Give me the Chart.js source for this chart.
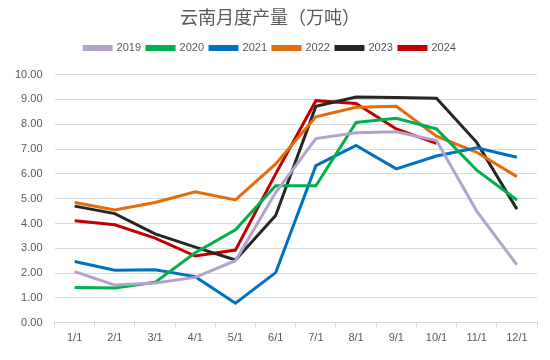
<!DOCTYPE html>
<html>
<head>
<meta charset="utf-8">
<script src="https://cdn.jsdelivr.net/npm/chart.js@4"></script>
<style>
  html, body { margin: 0; padding: 0; background: #fff; }
  #wrap { width: 550px; height: 360px; }
</style>
</head>
<body>
<div id="wrap"><canvas id="chart" width="550" height="360"></canvas></div>
<script>
// --- data ---
const months = ['1/1', '2/1', '3/1', '4/1', '5/1', '6/1', '7/1', '8/1', '9/1', '10/1', '11/1', '12/1'];
const y2019 = [2.06, 1.52, 1.60, 1.83, 2.50, 5.25, 7.42, 7.66, 7.70, 7.34, 4.50, 2.33];
const y2020 = [1.42, 1.40, 1.63, 2.82, 3.75, 5.52, 5.52, 8.07, 8.24, 7.81, 6.15, 4.95];
const y2021 = [2.47, 2.12, 2.14, 1.86, 0.79, 2.02, 6.33, 7.15, 6.20, 6.72, 7.05, 6.67];
const y2022 = [4.85, 4.55, 4.85, 5.28, 4.95, 6.40, 8.30, 8.68, 8.72, 7.52, 6.87, 5.89];
const y2023 = [4.70, 4.40, 3.58, 3.05, 2.53, 4.32, 8.72, 9.10, 9.08, 9.05, 7.27, 4.58];
const y2024 = [4.11, 3.95, 3.41, 2.69, 2.93, 6.00, 8.95, 8.84, 7.81, 7.23];
const yTicks = [0, 1, 2, 3, 4, 5, 6, 7, 8, 9, 10];

const grey = '#595959';
const gridGrey = '#D9D9D9';

const mk = (label, data, color) => ({
    label: label,
    data: data,
    borderColor: color,
    backgroundColor: color,
    borderWidth: 3,
    pointRadius: 0,
    tension: 0,
    fill: false
});

// a bit more room under the legend, like the original
const legendGap = {
    id: 'legendGap',
    beforeInit(chart) {
        const fit = chart.legend.fit;
        chart.legend.fit = function () {
            fit.bind(chart.legend)();
            this.height += 11;
        };
    }
};

new Chart(document.getElementById('chart').getContext('2d'), {
    type: 'line',
    data: {
        labels: months,
        datasets: [
            mk('2019', y2019, '#B3A2CC'),
            mk('2020', y2020, '#00B050'),
            mk('2021', y2021, '#0070C0'),
            mk('2022', y2022, '#E46C0A'),
            mk('2023', y2023, '#262626'),
            mk('2024', y2024, '#C00000')
        ]
    },
    plugins: [legendGap],
    options: {
        responsive: false,
        animation: false,
        layout: { padding: { left: 3, right: 13, top: 4, bottom: 11 } },
        plugins: {
            title: {
                display: true,
                text: '云南月度产量（万吨）',
                color: grey,
                font: { family: '"Noto Sans CJK SC", sans-serif', size: 18, weight: 'normal' },
                padding: { top: 2, bottom: 9 }
            },
            legend: {
                position: 'top',
                labels: {
                    boxWidth: 27,
                    boxHeight: 3,
                    padding: 6,
                    color: grey,
                    font: { family: '"Liberation Sans", sans-serif', size: 11 }
                }
            },
            tooltip: { enabled: false }
        },
        scales: {
            x: {
                offset: true,
                grid: {
                    offset: true,
                    drawOnChartArea: false,
                    drawTicks: true,
                    tickLength: 5,
                    color: gridGrey
                },
                border: { display: true, color: gridGrey },
                ticks: {
                    color: grey,
                    padding: 4,
                    maxRotation: 0,
                    font: { family: '"Liberation Sans", sans-serif', size: 11 }
                }
            },
            y: {
                min: 0,
                max: 10,
                afterBuildTicks: axis => { axis.ticks = yTicks.map(v => ({ value: v })); },
                grid: { color: gridGrey, drawTicks: false },
                border: { display: false },
                ticks: {
                    color: grey,
                    padding: 12,
                    callback: v => Number(v).toFixed(2),
                    font: { family: '"Liberation Sans", sans-serif', size: 11 }
                }
            }
        }
    }
});
</script>
</body>
</html>
